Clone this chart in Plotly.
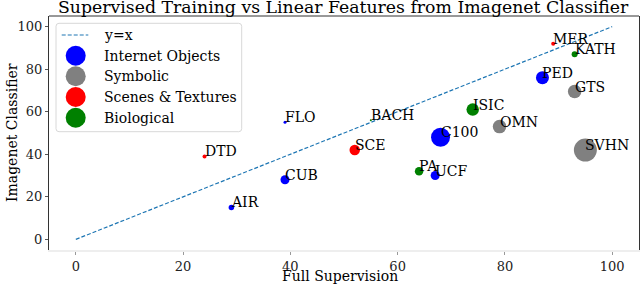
import plotly.graph_objects as go

names = ["AIR", "DTD", "CUB", "FLO", "BACH", "SCE", "PA", "UCF", "C100", "ISIC",
         "OMN", "PED", "GTS", "MER", "KATH", "SVHN"]
full_sup = [29, 24, 39, 39, 55, 52, 64, 67, 68, 74, 79, 87, 93, 89, 93, 95]
imagenet = [15, 39, 28, 55, 56, 42, 32, 30, 48, 61, 53, 76, 69.5, 92, 87, 42]
groups = ["Internet Objects", "Scenes & Textures", "Internet Objects", "Internet Objects",
          "Biological", "Scenes & Textures", "Biological", "Internet Objects",
          "Internet Objects", "Biological", "Symbolic", "Internet Objects", "Symbolic",
          "Scenes & Textures", "Biological", "Symbolic"]
sizes = [5.5, 4, 9, 3, 2, 10.5, 8.5, 9, 19, 12.5, 13.5, 13, 13.5, 4, 6, 23]
group_order = ["Internet Objects", "Symbolic", "Scenes & Textures", "Biological"]
group_colors = {"Internet Objects": "#0000ff", "Symbolic": "#808080",
                "Scenes & Textures": "#ff0000", "Biological": "#008000"}
line_x = [0, 100]
line_y = [0, 100]

FONT = "DejaVu Serif, serif"
W, H = 640, 284
L, R, T, B = 49, 1, 16, 34
PW, PH = W - L - R, H - T - B


def px(x):
    return (x - L) / PW


def py(y):
    return (H - B - y) / PH


fig = go.Figure()
fig.add_trace(go.Scatter(x=line_x, y=line_y, mode="lines", name="y=x", showlegend=False,
                         hoverinfo="skip",
                         line=dict(color="#1f77b4", width=1.2, dash="4px,2px")))
for g in group_order:
    idx = [i for i, gg in enumerate(groups) if gg == g]
    fig.add_trace(go.Scatter(x=[full_sup[i] for i in idx], y=[imagenet[i] for i in idx],
                             mode="markers", showlegend=False, name=g, hoverinfo="skip",
                             marker=dict(color=group_colors[g], opacity=1,
                                         size=[sizes[i] for i in idx],
                                         line=dict(width=0))))

for n, x, y in zip(names, full_sup, imagenet):
    fig.add_annotation(x=x, y=y, text=n, showarrow=False, xanchor="left", yanchor="bottom",
                       xshift=-2, yshift=-5, font=dict(family=FONT, size=14, color="black"))

# frame: top spine
fig.add_shape(type="line", xref="paper", yref="paper", x0=0, x1=1, y0=1, y1=1,
              line=dict(color="#333333", width=1))

# manual legend (matplotlib-style)
lx0, lx1, ly0, ly1, rr = 56, 241.7, 23.3, 131.7, 3
path = (f"M {px(lx0 + rr)} {py(ly0)} L {px(lx1 - rr)} {py(ly0)} "
        f"Q {px(lx1)} {py(ly0)} {px(lx1)} {py(ly0 + rr)} L {px(lx1)} {py(ly1 - rr)} "
        f"Q {px(lx1)} {py(ly1)} {px(lx1 - rr)} {py(ly1)} L {px(lx0 + rr)} {py(ly1)} "
        f"Q {px(lx0)} {py(ly1)} {px(lx0)} {py(ly1 - rr)} L {px(lx0)} {py(ly0 + rr)} "
        f"Q {px(lx0)} {py(ly0)} {px(lx0 + rr)} {py(ly0)} Z")
fig.add_shape(type="path", xref="paper", yref="paper", path=path,
              fillcolor="rgba(255,255,255,0.85)", line=dict(color="#d8d8d8", width=1))
rows = [35, 55.7, 76.3, 97, 117.7]
fig.add_shape(type="line", xref="paper", yref="paper", x0=px(61.7), x1=px(88.3),
              y0=py(rows[0]), y1=py(rows[0]),
              line=dict(color="#1f77b4", width=1.2, dash="4px,2px"))
fig.add_annotation(xref="paper", yref="paper", x=px(101.7), y=py(rows[0]), text="y=x",
                   showarrow=False, xanchor="left", yanchor="middle",
                   font=dict(family=FONT, size=14, color="black"))
for g, ry in zip(group_order, rows[1:]):
    fig.add_shape(type="circle", xref="paper", yref="paper",
                  x0=px(75.7 - 10), x1=px(75.7 + 10), y0=py(ry - 10), y1=py(ry + 10),
                  fillcolor=group_colors[g], line=dict(width=0))
    fig.add_annotation(xref="paper", yref="paper", x=px(101.7), y=py(ry), text=g,
                       showarrow=False, xanchor="left", yanchor="middle",
                       font=dict(family=FONT, size=14, color="black"))

# titles
fig.add_annotation(xref="paper", yref="paper", x=px(343.5), y=py(7), yanchor="middle",
                   xanchor="center", showarrow=False,
                   text="Supervised Training vs Linear Features from Imagenet Classifier",
                   font=dict(family=FONT, size=17.3, color="black"))
fig.add_annotation(xref="paper", yref="paper", x=px(340), y=py(276), yanchor="middle",
                   xanchor="center", showarrow=False, text="Full Supervision",
                   font=dict(family=FONT, size=14, color="black"))
fig.add_annotation(xref="paper", yref="paper", x=px(12), y=py(133), yanchor="middle",
                   xanchor="center", showarrow=False, text="Imagenet Classifier",
                   textangle=-90, font=dict(family=FONT, size=14, color="black"))

fig.update_layout(
    width=W, height=H,
    margin=dict(l=L, r=R, t=T, b=B, autoexpand=False),
    paper_bgcolor="white", plot_bgcolor="white",
    font=dict(family=FONT, size=13, color="#222222"),
    showlegend=False, hovermode=False,
)
fig.update_xaxes(range=[-5, 105], tickvals=[0, 20, 40, 60, 80, 100], showgrid=False,
                 zeroline=False, showline=True, linecolor="#eeeeee", linewidth=2,
                 ticks="outside", ticklen=3, tickcolor="#999999", automargin=False,
                 tickfont=dict(family=FONT, size=13, color="#222222"))
fig.update_yaxes(range=[-5, 105], tickvals=[0, 20, 40, 60, 80, 100], showgrid=False,
                 zeroline=False, showline=True, mirror=True, linecolor="#333333", linewidth=1,
                 ticks="outside", ticklen=3, tickcolor="#555555", automargin=False,
                 tickfont=dict(family=FONT, size=13, color="#222222"))
fig.write_html("out.html", config={"displayModeBar": False},
               post_script="document.body.style.margin='0px';"
                           "document.body.style.padding='0px';"
                           "document.body.style.overflow='hidden';")
